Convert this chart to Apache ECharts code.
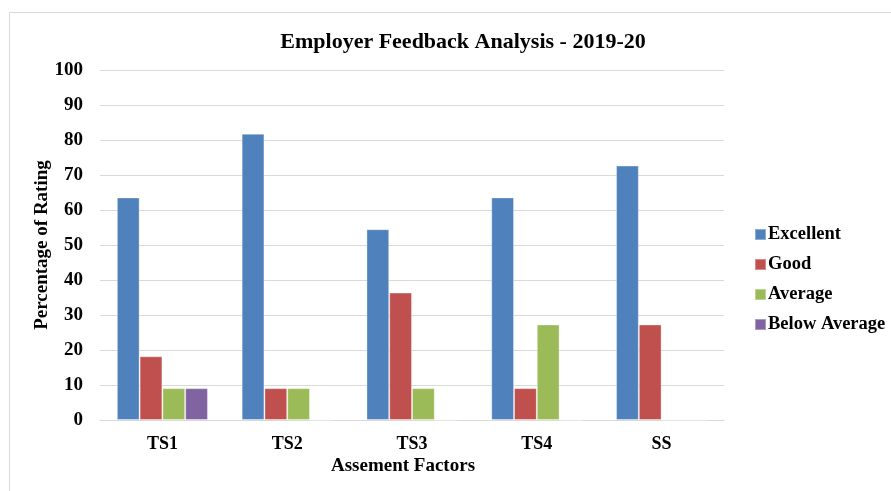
<!DOCTYPE html>
<html>
<head>
<meta charset="utf-8">
<script src="https://cdn.jsdelivr.net/npm/echarts@6/dist/echarts.min.js"></script>
<style>
  html, body { margin: 0; padding: 0; background: #fff; }
  #chart { width: 891px; height: 491px; }
</style>
</head>
<body>
<div id="chart"></div>
<script>
const categories = ['TS1', 'TS2', 'TS3', 'TS4', 'SS']
const excellent = [63.6, 81.8, 54.5, 63.6, 72.7]
const good = [18.2, 9.1, 36.4, 9.1, 27.3]
const average = [9.1, 9.1, 9.1, 27.3, 0]
const belowAverage = [9.1, 0, 0, 0, 0]

const font = '"Liberation Serif", "Times New Roman", serif'
const chart = echarts.init(document.getElementById('chart'))

const bar = (name, data, color) => ({
  name,
  type: 'bar',
  data,
  barGap: 0,
  barCategoryGap: '27%',
  itemStyle: { color, borderColor: 'rgba(255,255,255,0.35)', borderWidth: 1 }
})

chart.setOption({
  animation: false,
  textStyle: { fontFamily: font },
  graphic: [{
    type: 'rect',
    shape: { x: 9.5, y: 12.5, width: 900, height: 500 },
    style: { fill: 'none', stroke: '#d9d9d9', lineWidth: 1 },
    silent: true
  }],
  title: {
    text: 'Employer Feedback Analysis - 2019-20',
    left: 458,
    textAlign: 'center',
    top: 26,
    textStyle: { fontFamily: font, fontSize: 22, fontWeight: 'bold', color: '#000' }
  },
  legend: {
    orient: 'vertical',
    left: 749,
    top: 220,
    itemWidth: 11,
    itemHeight: 11,
    itemGap: 11,
    icon: 'rect',
    textStyle: { fontFamily: font, fontSize: 18.5, fontWeight: 'bold', color: '#000', padding: [0, 0, 0, -3] }
  },
  grid: { left: 100, right: 167, top: 70, bottom: 71 },
  xAxis: {
    type: 'category',
    data: categories,
    name: 'Assement Factors',
    nameLocation: 'middle',
    nameGap: 37,
    nameMoveOverlap: false,
    nameTextStyle: { fontFamily: font, fontSize: 19, fontWeight: 'bold', color: '#000', padding: [0, 18, 0, 0] },
    axisLine: { lineStyle: { color: '#d9d9d9' } },
    axisTick: { show: false },
    axisLabel: { fontFamily: font, fontSize: 18, fontWeight: 'bold', color: '#000', margin: 15 }
  },
  yAxis: {
    type: 'value',
    min: 0,
    max: 100,
    interval: 10,
    name: 'Percentage of Rating',
    nameLocation: 'middle',
    nameGap: 48,
    nameMoveOverlap: false,
    nameTextStyle: { fontFamily: font, fontSize: 19, fontWeight: 'bold', color: '#000' },
    axisLine: { show: false },
    axisTick: { show: false },
    axisLabel: { fontFamily: font, fontSize: 19, fontWeight: 'bold', color: '#000', margin: 17 },
    splitLine: { lineStyle: { color: '#d9d9d9' } }
  },
  series: [
    bar('Excellent', excellent, '#4f81bd'),
    bar('Good', good, '#c0504d'),
    bar('Average', average, '#9bbb59'),
    bar('Below Average', belowAverage, '#8064a2')
  ]
})
</script>
</body>
</html>
